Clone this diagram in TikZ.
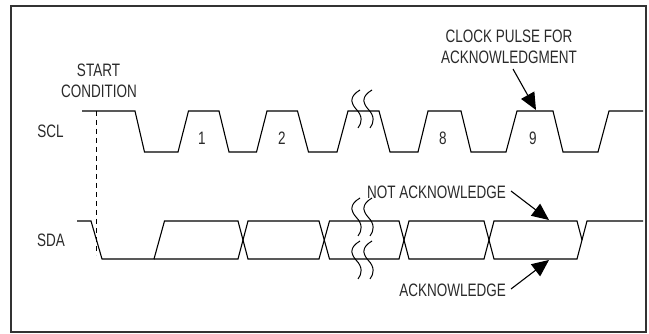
\documentclass[tikz,border=0pt]{standalone}
\usepackage{fontspec}
\usepackage{graphicx}
\setmainfont{Liberation Sans}
\usetikzlibrary{arrows.meta}
\definecolor{framec}{HTML}{333333}
\definecolor{textc}{HTML}{2A2A2A}
\newcommand{\narrowtext}[1]{\scalebox{0.75}[1]{#1}}
\tikzset{
  label text/.style={inner sep=0pt,text height=13pt,text depth=0pt,font=\fontsize{18pt}{20pt}\selectfont,text=textc},
  wave/.style={line width=1.1pt,black,line join=miter},
  breakmark/.style={line width=1pt,black},
  pointer/.style={line width=1.1pt,black,-{Triangle[length=17pt,width=15pt]}},
}
\begin{document}
\begin{tikzpicture}[x=1pt,y=-1pt]
\useasboundingbox (0,0) rectangle (649,334);
\fill[white] (0,0) rectangle (649,334);
\draw[line width=2pt,framec] (11,6) rectangle (646,332);
% SCL
\draw[wave] (82,111) -- (135,111) -- (144.5,152) -- (178,152) -- (188.5,111) -- (219,111) -- (229,152) -- (256.5,152) -- (267,111) -- (297.5,111) -- (308.5,152) -- (337,152) -- (348,111) -- (379,111) -- (390,152) -- (418,152) -- (428,111) -- (461,111) -- (471,152) -- (506,152) -- (517,111) -- (553,111) -- (563,152) -- (598,152) -- (609,111) -- (643,111);
% SDA
\draw[wave] (77,221) -- (91,221) -- (102,259) -- (154,259) -- (164.5,221) -- (238,221) -- (248,259) -- (319,259) -- (329.5,221) -- (399,221) -- (409,259) -- (484,259) -- (494,221) -- (577,221) -- (582,240);
\draw[wave] (154,259) -- (238,259) -- (248,221) -- (319,221) -- (329.5,259) -- (399,259) -- (409,221) -- (484,221) -- (494,259) -- (577,259) -- (587,221) -- (643,221);
% start marker
\draw[line width=0.8pt,dash pattern=on 5pt off 4pt] (96,111) -- (96,255);
% break marks
\foreach \dx in {0,12}{
  \foreach \top in {90,198,241}{
    \begin{scope}[shift={(\dx,\top)}]
      \draw[breakmark] (360,0) .. controls (350,6) and (350,12) .. (356,19) .. controls (363,26) and (362,33) .. (358,38);
    \end{scope}
  }
}
% labels
\node[label text] (start) at (98.5,70) {\narrowtext{START}};
\node[label text] (cond) at (99,91) {\narrowtext{CONDITION}};
\node[label text] (scl) at (50.5,131) {\narrowtext{SCL}};
\node[label text] (sda) at (51,240) {\narrowtext{SDA}};
\node[label text] (p1) at (202,138) {\narrowtext{1}};
\node[label text] (p2) at (282,138) {\narrowtext{2}};
\node[label text] (p8) at (443,138) {\narrowtext{8}};
\node[label text] (p9) at (533,138) {\narrowtext{9}};
\node[label text] (clock) at (509,36) {\narrowtext{CLOCK PULSE FOR}};
\node[label text] (ackm) at (509,57) {\narrowtext{ACKNOWLEDGMENT}};
\node[label text,anchor=east] (nack) at (506,192) {\narrowtext{NOT ACKNOWLEDGE}};
\node[label text,anchor=east] (ack) at (506,290) {\narrowtext{ACKNOWLEDGE}};
% pointers
\coordinate (clockfrom) at (513,69);
\coordinate (clocktip) at (536,110);
\coordinate (nackfrom) at (511,191);
\coordinate (nacktip) at (549,220);
\coordinate (ackfrom) at (511,289);
\coordinate (acktip) at (549,260);
\draw[pointer] (clockfrom) -- (clocktip);
\draw[pointer] (nackfrom) -- (nacktip);
\draw[pointer] (ackfrom) -- (acktip);
\end{tikzpicture}
\end{document}
